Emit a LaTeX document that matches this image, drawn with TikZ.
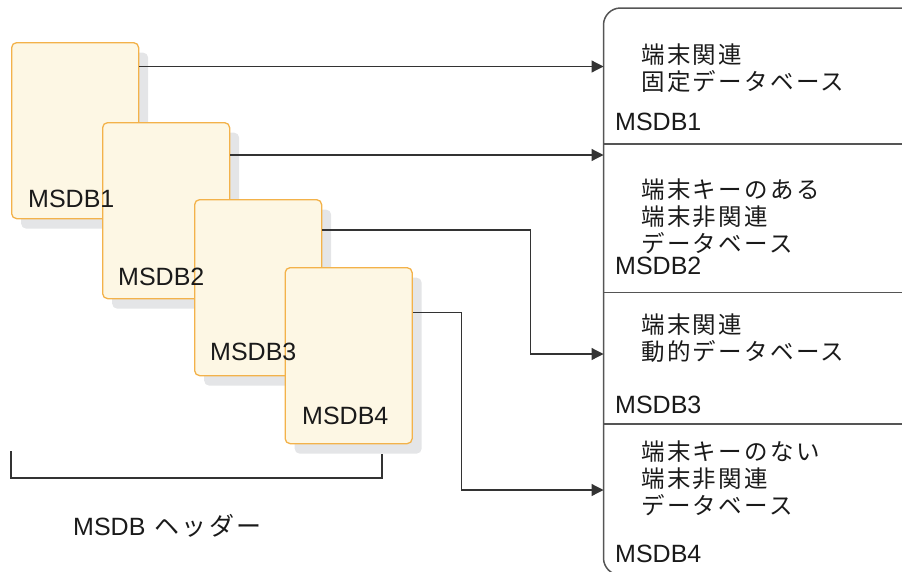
\documentclass[tikz,border=0pt]{standalone}
\usepackage{fontspec}
\setmainfont{Liberation Sans}
\newfontfamily\cjk[LetterSpace=10]{Noto Sans CJK JP}
\usetikzlibrary{arrows.meta,shadows}
\definecolor{boxfill}{HTML}{FDF7E4}
\definecolor{boxline}{HTML}{F3B24A}
\definecolor{shade}{HTML}{E4E5E7}
\definecolor{ink}{HTML}{1A1A1A}
\definecolor{wire}{HTML}{333333}
\definecolor{panelline}{HTML}{555555}
\begin{document}
\begin{tikzpicture}[x=1pt,y=-1pt,
  msdbbox/.style={draw=boxline,fill=boxfill,line width=1.3pt,rounded corners=5pt,
    minimum width=127pt,minimum height=176pt,anchor=north west,inner sep=0pt,
    drop shadow={shadow xshift=9.5pt,shadow yshift=-10pt,fill=shade,opacity=1}},
  lbl/.style={anchor=base west,inner sep=0pt,text=ink,font=\fontsize{25}{30}\selectfont},
  jp/.style={anchor=base west,inner sep=0pt,text=ink,font=\fontsize{23.5}{27}\selectfont\cjk},
  conn/.style={draw=wire,line width=1.25pt,-{Triangle[length=12pt,width=12pt]}},
  panel/.style={draw=panelline,line width=1.5pt}]
\useasboundingbox (0,0) rectangle (902,571);
% boxes
\node[msdbbox] (b1) at (11,42) {};
\node[msdbbox] (b2) at (102,122) {};
\node[msdbbox] (b3) at (194,199) {};
\node[msdbbox] (b4) at (284.5,267) {};
\node[lbl] (l1) at (28,207) {MSDB1};
\node[lbl] (l2) at (118,285) {MSDB2};
\node[lbl] (l3) at (210,360) {MSDB3};
\node[lbl] (l4) at (302,424) {MSDB4};
% panel
\draw[panel,rounded corners=17pt] (905,8) -- (603.5,8) -- (603.5,575) -- (905,575);
\draw[panel] (603.5,144) -- (905,144);
\draw[panel] (603.5,292.7) -- (905,292.7);
\draw[panel] (603.5,424) -- (905,424);
\coordinate (p1) at (603.5,66.5);
\coordinate (p2) at (603.5,155);
\coordinate (p3) at (603.5,354);
\coordinate (p4) at (603.5,490);
% connectors
\draw[conn] (b1.east |- p1) -- (p1);
\draw[conn] (b2.east |- p2) -- (p2);
\draw[conn] (b3.east |- 0,230) -- (530.7,230) |- (p3);
\draw[conn] (b4.east |- 0,312.5) -- (461.7,312.5) |- (p4);
% panel texts
\node[jp] (s1a) at (641,63.5) {端末関連};
\node[jp] (s1b) at (641,90.5) {固定データベース};
\node[lbl] (m1) at (615,130) {MSDB1};
\node[jp] (s2a) at (641,198.5) {端末キーのある};
\node[jp] (s2b) at (641,225.5) {端末非関連};
\node[jp] (s2c) at (641,252.5) {データベース};
\node[lbl] (m2) at (615,274) {MSDB2};
\node[jp] (s3a) at (641,333.5) {端末関連};
\node[jp] (s3b) at (641,360.5) {動的データベース};
\node[lbl] (m3) at (615,413) {MSDB3};
\node[jp] (s4a) at (641,460.5) {端末キーのない};
\node[jp] (s4b) at (641,487.5) {端末非関連};
\node[jp] (s4c) at (641,514.5) {データベース};
\node[lbl] (m4) at (615,562) {MSDB4};
% header bracket
\draw[wire,line width=1.25pt] (11,451) -- (11,478) -- (382,478) -- (382,454);
\node[lbl] (hdr) at (73,535) {MSDB\hspace{9pt}{\cjk\fontsize{25}{27}\selectfont ヘッダー}};
\end{tikzpicture}
\end{document}
